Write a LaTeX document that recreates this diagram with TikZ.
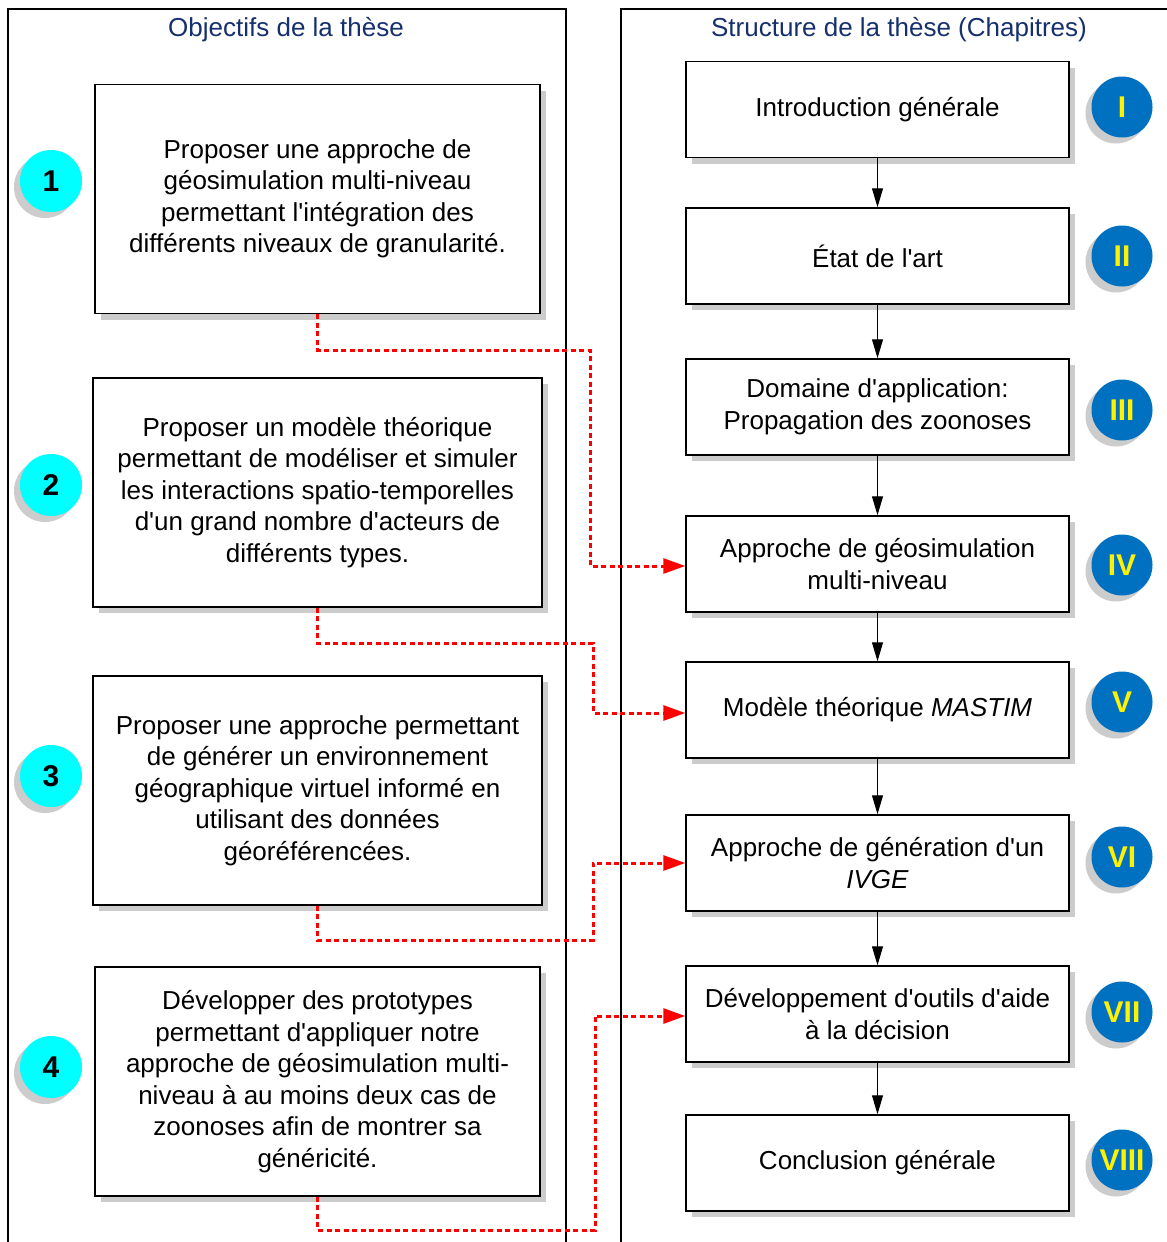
\documentclass[tikz,border=0pt]{standalone}
\usepackage{fontspec}
\setmainfont{Liberation Sans}[Ligatures=TeXOff]
\usetikzlibrary{shadows,arrows.meta}
\definecolor{navy}{RGB}{22,48,110}
\definecolor{numcyan}{RGB}{0,255,255}
\definecolor{chapblue}{RGB}{0,112,192}
\definecolor{shadowgray}{RGB}{204,204,204}
\begin{document}
\begin{tikzpicture}[x=1pt,y=-1pt,
  txt/.style={font=\fontsize{26}{31.5}\selectfont},
  objbox/.style={draw=black, line width=1.5pt, fill=white, align=center, inner sep=0pt,
    minimum height=229pt, txt,
    drop shadow={shadow xshift=6pt, shadow yshift=-6pt, fill=shadowgray, opacity=1}},
  chapbox/.style={draw=black, line width=1.5pt, fill=white, align=center, inner sep=0pt,
    minimum width=383pt, minimum height=96pt, txt,
    drop shadow={shadow xshift=6pt, shadow yshift=-6pt, fill=shadowgray, opacity=1}},
  numcirc/.style={circle, fill=numcyan, minimum size=62pt, inner sep=0pt,
    font=\fontsize{30}{30}\selectfont\bfseries, text=black,
    drop shadow={shadow xshift=-6pt, shadow yshift=-6pt, fill=shadowgray, opacity=1}},
  romcirc/.style={circle, fill=chapblue, minimum size=61pt, inner sep=0pt,
    font=\fontsize{30}{30}\selectfont\bfseries, text=yellow,
    drop shadow={shadow xshift=-6pt, shadow yshift=-6pt, fill=shadowgray, opacity=1}},
  title/.style={font=\fontsize{26}{31.5}\selectfont, text=navy},
  panel/.style={draw=black, line width=1.3pt},
  flow/.style={draw=black, line width=1pt, -{Triangle[length=19pt,width=11pt]}},
  link/.style={draw=red, line width=3pt, dash pattern=on 5pt off 3.5pt,
    -{Triangle[length=22pt,width=15pt]}}
]
\useasboundingbox (0,0) rectangle (1167,1242);
\fill[white] (0,0) rectangle (1167,1242);
% panels
\draw[panel] (8,1260) -- (8,9) -- (566,9) -- (566,1260);
\draw[panel] (621,1260) -- (621,9) -- (1200,9);
\node[title] (t1) at (286,30) {Objectifs de la thèse};
\node[title] (t2) at (899,30) {Structure de la thèse (Chapitres)};
% objectives
\node[objbox, minimum width=445pt] (b1) at (317.5,199) {Proposer une approche de\\géosimulation multi-niveau\\permettant l'intégration des\\différents niveaux de granularité.};
\node[objbox, minimum width=449pt] (b2) at (317.5,492.5) {Proposer un modèle théorique\\permettant de modéliser et simuler\\les interactions spatio-temporelles\\d'un grand nombre d'acteurs de\\différents types.};
\node[objbox, minimum width=449pt] (b3) at (317.5,790.5) {Proposer une approche permettant\\de générer un environnement\\géographique virtuel informé en\\utilisant des données\\géoréférencées.};
\node[objbox, minimum width=445pt] (b4) at (317.5,1081.5) {Développer des prototypes\\permettant d'appliquer notre\\approche de géosimulation multi-\\niveau à au moins deux cas de\\zoonoses afin de montrer sa\\généricité.};
\node[numcirc] (n1) at (51,181) {1};
\node[numcirc] (n2) at (51,485) {2};
\node[numcirc] (n3) at (51,776) {3};
\node[numcirc] (n4) at (51,1067) {4};
% chapters
\node[chapbox] (c1) at (877.5,109.5) {Introduction générale};
\node[chapbox] (c2) at (877.5,256) {État de l'art};
\node[chapbox] (c3) at (877.5,407) {Domaine d'application:\\Propagation des zoonoses};
\node[chapbox] (c4) at (877.5,564) {Approche de géosimulation\\multi-niveau};
\node[chapbox] (c5) at (877.5,710) {Modèle théorique \textit{MASTIM}};
\node[chapbox] (c6) at (877.5,863) {Approche de génération d'un\\\textit{IVGE}};
\node[chapbox] (c7) at (877.5,1014) {Développement d'outils d'aide\\à la décision};
\node[chapbox] (c8) at (877.5,1163) {Conclusion générale};
\node[romcirc] (r1) at (1122,107) {I};
\node[romcirc] (r2) at (1122,256) {II};
\node[romcirc] (r3) at (1122,410) {III};
\node[romcirc] (r4) at (1122,565) {IV};
\node[romcirc] (r5) at (1122,702) {V};
\node[romcirc] (r6) at (1122,857) {VI};
\node[romcirc] (r7) at (1122,1012) {VII};
\node[romcirc] (r8) at (1122,1160) {VIII};
% flow arrows
\draw[flow] (c1) -- (c2);
\draw[flow] (c2) -- (c3);
\draw[flow] (c3) -- (c4);
\draw[flow] (c4) -- (c5);
\draw[flow] (c5) -- (c6);
\draw[flow] (c6) -- (c7);
\draw[flow] (c7) -- (c8);
% links
\coordinate (k1) at (590,350);
\coordinate (k2) at (593,643);
\coordinate (k3) at (593,940);
\coordinate (k4) at (595,1230);
\draw[link] (b1.south) |- (k1) |- ([yshift=-2pt]c4.west);
\draw[link] (b2.south) |- (k2) |- ([yshift=-3pt]c5.west);
\draw[link] (b3.south) |- (k3) |- (c6.west);
\draw[link] (b4.south) |- (k4) |- ([yshift=-2pt]c7.west);
\end{tikzpicture}
\end{document}
